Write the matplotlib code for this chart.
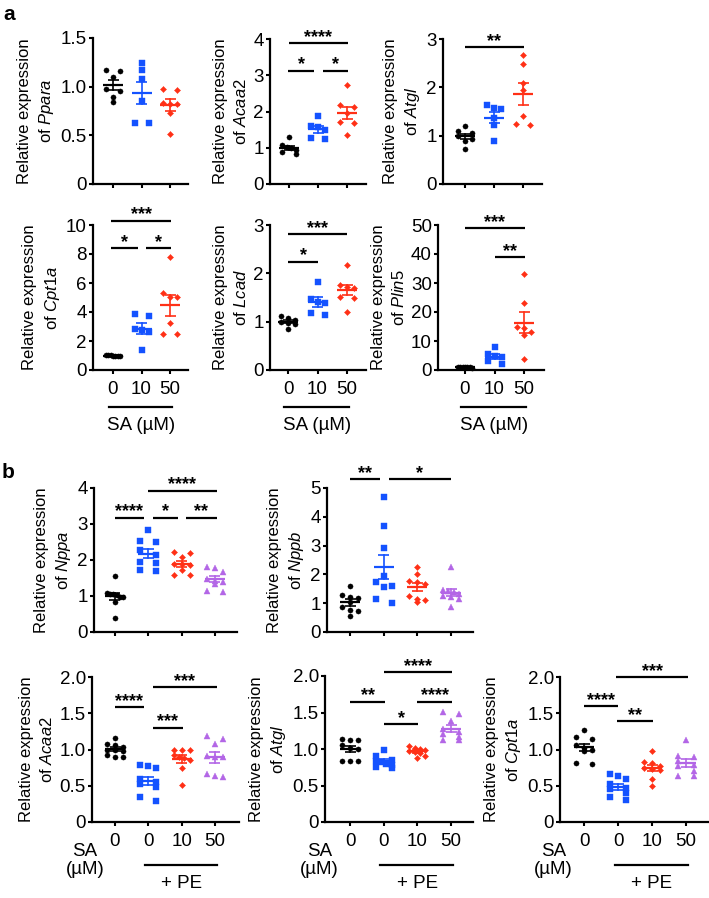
import numpy as np
import matplotlib
matplotlib.use('Agg')
import matplotlib.pyplot as plt
from matplotlib.transforms import blended_transform_factory as btf

plt.rcParams['font.family'] = ['Liberation Sans', 'DejaVu Sans']
plt.rcParams['mathtext.fontset'] = 'custom'
plt.rcParams['mathtext.rm'] = 'Liberation Sans'
plt.rcParams['mathtext.it'] = 'Liberation Sans:italic'
plt.rcParams['mathtext.bf'] = 'Liberation Sans:bold'

W, H = 709, 898

# ---------------- data ----------------
sa_labels_a = ['0', '10', '50']
sa_labels_b = ['0', '0', '10', '50']

a_ppara = [[1.17, 1.16, 1.10, 0.98, 0.96, 0.89, 0.84],
           [1.24, 1.17, 1.08, 0.85, 0.63, 0.63],
           [0.97, 0.98, 0.82, 0.83, 0.82, 0.73, 0.51]]
a_acaa2 = [[1.29, 1.07, 1.02, 1.00, 0.95, 0.88, 0.82],
           [1.88, 1.60, 1.58, 1.50, 1.27, 1.25],
           [2.74, 2.17, 2.13, 1.96, 1.72, 1.68, 1.34]]
a_atgl = [[1.20, 1.10, 1.05, 1.00, 0.93, 0.88, 0.72],
          [1.63, 1.56, 1.57, 1.37, 1.23, 0.89],
          [2.66, 2.48, 2.10, 1.95, 1.40, 1.22, 1.24]]
a_cpt1a = [[1.02, 1.00, 0.98, 1.01, 0.97, 1.03, 0.99],
           [3.70, 3.85, 2.80, 2.75, 2.60, 1.40],
           [7.78, 5.29, 5.06, 5.06, 3.21, 2.47, 2.47]]
a_lcad = [[1.12, 1.07, 1.03, 1.00, 0.98, 0.95, 0.84],
          [1.83, 1.47, 1.40, 1.38, 1.18, 1.14],
          [2.17, 1.76, 1.72, 1.70, 1.52, 1.50, 1.21]]
a_plin5 = [[1.0, 0.9, 1.1, 0.8, 1.2, 0.95, 1.05],
           [8.0, 5.5, 4.7, 4.5, 3.0, 2.0],
           [33.0, 23.0, 14.8, 14.6, 13.2, 12.1, 3.9]]

b_nppa = [[1.56, 1.07, 1.06, 1.05, 1.02, 0.98, 0.96, 0.83, 0.40],
          [2.82, 2.52, 2.50, 2.27, 2.15, 1.95, 1.93, 1.72, 1.70],
          [2.22, 2.20, 2.07, 1.90, 1.88, 1.86, 1.72, 1.58, 1.57],
          [1.80, 1.78, 1.68, 1.48, 1.42, 1.40, 1.33, 1.13, 1.12]]
b_nppb = [[1.58, 1.30, 1.22, 1.18, 1.05, 0.88, 0.75, 0.72, 0.57],
          [4.68, 3.68, 2.90, 1.94, 1.74, 1.57, 1.60, 1.15, 1.00],
          [2.25, 2.01, 1.78, 1.74, 1.68, 1.25, 1.13, 1.10, 1.05],
          [2.27, 1.45, 1.42, 1.38, 1.33, 1.25, 1.20, 1.13, 0.87]]
b_acaa2 = [[1.16, 1.08, 1.06, 1.03, 1.00, 0.99, 0.98, 0.92, 0.90, 0.89],
           [0.78, 0.77, 0.74, 0.60, 0.55, 0.53, 0.48, 0.35, 0.29],
           [1.00, 1.00, 0.99, 0.92, 0.90, 0.88, 0.86, 0.74, 0.51],
           [1.18, 1.15, 1.07, 0.91, 0.90, 0.89, 0.66, 0.64, 0.62]]
b_atgl = [[1.14, 1.13, 1.12, 1.05, 1.02, 1.00, 0.84, 0.84, 0.83],
          [0.99, 0.91, 0.85, 0.84, 0.82, 0.80, 0.78, 0.76, 0.74],
          [1.04, 1.02, 1.00, 0.98, 0.97, 0.96, 0.95, 0.91, 0.88],
          [1.51, 1.48, 1.38, 1.27, 1.23, 1.20, 1.17, 1.13, 1.12]]
b_cpt1a = [[1.27, 1.17, 1.15, 1.06, 1.02, 1.00, 0.98, 0.82, 0.80],
           [0.66, 0.64, 0.60, 0.52, 0.47, 0.45, 0.40, 0.34, 0.30],
           [0.98, 0.83, 0.82, 0.77, 0.75, 0.73, 0.72, 0.60, 0.49],
           [1.13, 0.91, 0.89, 0.84, 0.78, 0.77, 0.71, 0.64, 0.63]]

# significance annotations: (from group, to group, height, label)
sig_a_acaa2 = [(0, 2.02, 3.89, '****'), (-0.03, 0.87, 3.12, '*'), (1.18, 2.05, 3.12, '*')]
sig_a_atgl = [(0, 2.02, 2.83, '**')]
sig_a_cpt1a = [(-0.06, 2.05, 10.28, '***'), (-0.06, 0.86, 8.4, '*'), (1.15, 2.05, 8.4, '*')]
sig_a_lcad = [(0, 2.0, 2.81, '***'), (0, 1.02, 2.24, '*')]
sig_a_plin5 = [(0, 2.02, 48.9, '***'), (1, 2.02, 38.9, '**')]
sig_b_nppa = [(1, 3.05, 3.92, '****'), (0, 0.87, 3.18, '****'), (1.15, 1.9, 3.18, '*'), (2.13, 3.05, 3.18, '**')]
sig_b_nppb = [(0, 0.88, 5.3, '**'), (1.15, 3.0, 5.3, '*')]
sig_b_acaa2 = [(0, 0.87, 1.58, '****'), (1.13, 3.05, 1.86, '***'), (1.13, 2.03, 1.3, '***')]
sig_b_atgl = [(1, 3.03, 2.05, '****'), (0, 1.05, 1.65, '**'), (2, 3.03, 1.65, '****'), (1, 2.03, 1.34, '*')]
sig_b_cpt1a = [(0, 1, 1.6, '****'), (0.95, 3.05, 2.0, '***'), (0.97, 2.03, 1.39, '**')]

# ---------------- style ----------------
colors = ['#000000', '#1452FF', '#FF3016', '#B366E6']
markers = ['o', 's', 'D', '^']
msizes = [3.7, 3.7, 3.1, 4.2]
TICK_FS = 13.5
LAB_FS = 12
STAR_FS = 13

fig = plt.figure(figsize=(W / 100, H / 100), dpi=100)


def swarm_offsets(vals, ppy, d, width):
    v = np.asarray(vals, float)
    order = np.argsort(-v, kind='stable')
    offs = np.zeros(len(v))
    rows, cur = [], [order[0]]
    for idx in order[1:]:
        if (v[cur[0]] - v[idx]) * ppy < d:
            cur.append(idx)
        else:
            rows.append(cur)
            cur = [idx]
    rows.append(cur)
    for r in rows:
        n = len(r)
        if n > 1:
            step = width / (n - 1)
            pos = (np.arange(n) - (n - 1) / 2) * step
            for k, idx in enumerate(r):
                offs[idx] = pos[k]
    return offs


def panel(geom, data, ymax, yticks, yticklabels, gene, sigs, xlabels=None, row_w=14):
    left, tick0, sp, right, top, zero = geom
    ax = fig.add_axes([left / W, 1 - zero / H, (right - left) / W, (zero - top) / H])
    ax.set_xlim(-(tick0 - left) / sp, (right - tick0) / sp)
    ax.set_ylim(0, ymax)
    for s in ['top', 'right']:
        ax.spines[s].set_visible(False)
    for s in ['left', 'bottom']:
        ax.spines[s].set_linewidth(1.6)
    ng = len(data)
    ax.set_xticks(range(ng))
    if xlabels is None:
        ax.set_xticklabels([])
    else:
        ax.set_xticklabels(xlabels, fontsize=TICK_FS)
    ax.set_yticks(yticks)
    ax.set_yticklabels(yticklabels, fontsize=TICK_FS)
    ax.tick_params(axis='both', width=1.5, length=3.2, direction='out')
    ax.tick_params(axis='y', pad=1.2)
    ax.tick_params(axis='x', pad=4.5)
    ax.set_ylabel('Relative expression\nof $\\mathit{%s}$' % gene, fontsize=LAB_FS,
                  linespacing=1.4, labelpad=3)
    ppy = (zero - top) / ymax
    mh = 10.0 / sp
    ch = 5.5 / sp
    for g, vals in enumerate(data):
        v = np.asarray(vals, float)
        offs = swarm_offsets(v, ppy, 4.8, row_w) / sp
        ax.plot(g + offs, v, linestyle='none', marker=markers[g], ms=msizes[g],
                color=colors[g], mec=colors[g], mew=0.3, zorder=3, clip_on=False)
        m = v.mean()
        se = v.std(ddof=1) / np.sqrt(len(v))
        c = colors[g]
        ax.plot([g - mh, g + mh], [m, m], color=c, lw=1.6, zorder=4, solid_capstyle='butt')
        ax.plot([g, g], [m - se, m + se], color=c, lw=1.2, zorder=4)
        for yy in (m - se, m + se):
            ax.plot([g - ch, g + ch], [yy, yy], color=c, lw=1.2, zorder=4, solid_capstyle='butt')
    for (x1, x2, yy, lab) in sigs:
        ax.plot([x1, x2], [yy, yy], color='k', lw=1.6, clip_on=False, solid_capstyle='butt')
        ax.annotate(lab, xy=((x1 + x2) / 2, yy), xytext=(0, 1.0), textcoords='offset points',
                    ha='center', va='baseline', fontsize=STAR_FS, fontweight='bold',
                    annotation_clip=False)
    return ax


def fy(px):
    return 1 - px / H


def sa_bottom_a(ax):
    tr = btf(ax.transData, fig.transFigure)
    ax.plot([-0.15, 2.08], [fy(407), fy(407)], color='k', lw=1.6, transform=tr, clip_on=False)
    ax.text(1, fy(425), 'SA (µM)', transform=tr, ha='center', va='center', fontsize=TICK_FS)


def sa_bottom_b(ax):
    tr = btf(ax.transData, fig.transFigure)
    ax.text(-0.9, fy(851), 'SA', transform=tr, ha='center', va='center', fontsize=TICK_FS)
    ax.text(-0.9, fy(869), '(µM)', transform=tr, ha='center', va='center', fontsize=TICK_FS)
    ax.plot([0.9, 3.05], [fy(865), fy(865)], color='k', lw=1.6, transform=tr, clip_on=False)
    ax.text(2, fy(883), '+ PE', transform=tr, ha='center', va='center', fontsize=TICK_FS)


t15 = [0, 0.5, 1.0, 1.5]
t15l = ['0', '0.5', '1.0', '1.5']
t20 = [0, 0.5, 1.0, 1.5, 2.0]
t20l = ['0', '0.5', '1.0', '1.5', '2.0']

# panel a, row 1
panel((93, 113, 28.5, 188, 38, 184), a_ppara, 1.5, t15, t15l, 'Ppara', [])
panel((270, 289, 29, 366, 39, 184), a_acaa2, 4, range(5), [str(i) for i in range(5)], 'Acaa2', sig_a_acaa2)
panel((443, 465, 29, 542, 39, 184), a_atgl, 3, range(4), [str(i) for i in range(4)], 'Atgl', sig_a_atgl)
# panel a, row 2
ax = panel((93, 113, 28.5, 188, 225, 370), a_cpt1a, 10, range(0, 11, 2), [str(i) for i in range(0, 11, 2)],
           'Cpt1a', sig_a_cpt1a, xlabels=sa_labels_a)
sa_bottom_a(ax)
ax = panel((270, 288, 29.5, 366, 225, 370), a_lcad, 3, range(4), [str(i) for i in range(4)],
           'Lcad', sig_a_lcad, xlabels=sa_labels_a)
sa_bottom_a(ax)
ax = panel((438, 465, 29.5, 544, 225, 370), a_plin5, 50, range(0, 51, 10), [str(i) for i in range(0, 51, 10)],
           'Plin5', sig_a_plin5, xlabels=sa_labels_a)
sa_bottom_a(ax)

# panel b, row 1
panel((94, 115, 33.3, 237, 488, 632), b_nppa, 4, range(5), [str(i) for i in range(5)], 'Nppa', sig_b_nppa, row_w=16)
panel((327, 350, 33.7, 473, 488, 632), b_nppb, 5, range(6), [str(i) for i in range(6)], 'Nppb', sig_b_nppb, row_w=16)
# panel b, row 2
ax = panel((92, 115, 33.3, 239, 677, 822), b_acaa2, 2, t20, t20l, 'Acaa2', sig_b_acaa2, xlabels=sa_labels_b, row_w=16)
sa_bottom_b(ax)
ax = panel((325, 350, 33.7, 473, 676, 822), b_atgl, 2, t20, t20l, 'Atgl', sig_b_atgl, xlabels=sa_labels_b, row_w=16)
sa_bottom_b(ax)
ax = panel((560, 584, 34, 708, 677, 822), b_cpt1a, 2, t20, t20l, 'Cpt1a', sig_b_cpt1a, xlabels=sa_labels_b, row_w=16)
sa_bottom_b(ax)

fig.text(3 / W, fy(20), 'a', fontsize=15, fontweight='bold', ha='left', va='baseline')
fig.text(2 / W, fy(478), 'b', fontsize=15, fontweight='bold', ha='left', va='baseline')

fig.savefig('out.png', dpi=100, facecolor='white')
